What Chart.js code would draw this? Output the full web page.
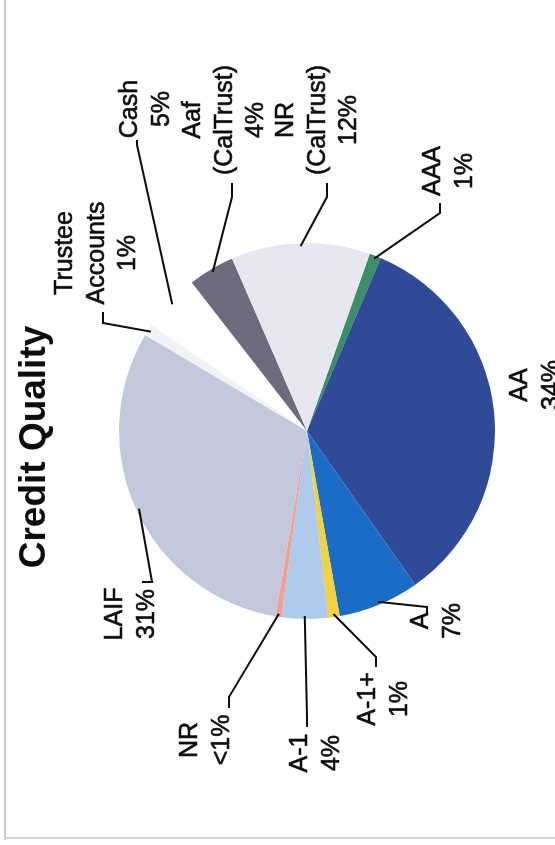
<!DOCTYPE html>
<html>
<head>
<meta charset="utf-8">
<title>Credit Quality</title>
<script src="https://cdn.jsdelivr.net/npm/chart.js@4.4.0/dist/chart.umd.min.js"></script>
<style>
  html, body { margin: 0; padding: 0; background: #fff; overflow: hidden; }
  #page { position: absolute; left: 0; top: 0; width: 555px; height: 845px; }
  #edgeLeft { position: absolute; left: 4px; top: 0; width: 2px; height: 840px; background: #cacad0; }
  #edgeBottom { position: absolute; left: 4px; top: 837px; width: 551px; height: 2px; background: #d2d2d6; }
  /* chart is laid out landscape, then turned to read bottom-to-top */
  #turn { position: absolute; left: 0; top: 0; width: 845px; height: 555px;
          transform-origin: 0 0; transform: translateY(845px) rotate(-90deg); }
</style>
</head>
<body>
<div id="page">
  <div id="turn"><canvas id="pie" width="845" height="555"></canvas></div>
  <div id="edgeLeft"></div>
  <div id="edgeBottom"></div>
</div>
<script>
// data, clockwise from AAA
const categories = [['AAA'], ['AA'], ['A'], ['A-1+'], ['A-1'], ['NR'], ['LAIF'],
  ['Trustee', 'Accounts'], ['Cash'], ['Aaf', '(CalTrust)'], ['NR', '(CalTrust)']];
const shares = [1, 34, 7, 1, 4, 0.5, 31, 1, 5, 4, 12];
const shareLabels = ['1%', '34%', '7%', '1%', '4%', '<1%', '31%', '1%', '5%', '4%', '12%'];

const sliceColors = ['#3a8e68', '#2f4a96', '#1b6cc6', '#f3d23c', '#aecbee', '#f2a08f',
  '#c4c8dd', '#f1f1f6', '#ffffff', '#6f6a7d', '#e6e7ef'];

// where each label sits (landscape coords) and its leader tick
const labelSpots = [
  { x: 674, y: 440, tick: [[642, 440], [632, 440]] },
  { x: 460, y: 527, tick: null },
  { x: 224, y: 428, tick: [[230, 427], [238, 427]] },
  { x: 146, y: 375, tick: [[178, 376], [188, 376]] },
  { x: 92, y: 307, tick: [[118, 307], [128, 307]] },
  { x: 105, y: 197, tick: [[137, 229], [148, 229]] },
  { x: 231, y: 122, tick: [[263, 142], [263, 152]] },
  { x: 592, y: 72, tick: [[533, 103], [522, 103]] },
  { x: 736, y: 137, tick: [[705, 137], [700, 137]] },
  { x: 725, y: 200, tick: [[662, 232], [648, 232]] },
  { x: 725, y: 293, tick: [[662, 327], [648, 327]] }
];
const lineGap = 31.5;

const sliceLabels = {
  id: 'sliceLabels',
  afterDatasetsDraw(chart) {
    const ctx = chart.ctx;
    const arcs = chart.getDatasetMeta(0).data;
    ctx.save();
    ctx.fillStyle = '#0d0d0d';
    ctx.strokeStyle = '#0d0d0d';
    ctx.textAlign = 'center';
    ctx.textBaseline = 'alphabetic';
    ctx.font = '25px "Liberation Sans", Arial, sans-serif';

    arcs.forEach((arc, i) => {
      const spot = labelSpots[i];
      const lines = categories[i].concat(shareLabels[i]);
      ctx.lineWidth = 0.6; // scanned type looks a little heavier
      lines.forEach((t, k) => {
        ctx.fillText(t, spot.x, spot.y + k * lineGap);
        ctx.strokeText(t, spot.x, spot.y + k * lineGap);
      });

      if (!spot.tick) return;
      const p = arc.getProps(['x', 'y', 'startAngle', 'endAngle', 'outerRadius'], true);
      const mid = (p.startAngle + p.endAngle) / 2;
      const ex = p.x + Math.cos(mid) * (p.outerRadius - 3);
      const ey = p.y + Math.sin(mid) * (p.outerRadius - 3);
      ctx.lineWidth = 2;
      ctx.beginPath();
      ctx.moveTo(spot.tick[0][0], spot.tick[0][1]);
      ctx.lineTo(spot.tick[1][0], spot.tick[1][1]);
      ctx.lineTo(ex, ey);
      ctx.stroke();
    });

    ctx.font = 'bold 37px "Liberation Sans", Arial, sans-serif';
    ctx.fillText('Credit Quality', 398, 45);
    ctx.restore();
  }
};

new Chart(document.getElementById('pie'), {
  type: 'pie',
  data: {
    labels: categories.map(c => c.join(' ')),
    datasets: [{
      data: shares,
      backgroundColor: sliceColors,
      borderWidth: 0
    }]
  },
  options: {
    responsive: false,
    animation: false,
    rotation: 109.5,
    radius: 188,
    layout: { padding: { left: 226, right: 243, top: 119, bottom: 60 } },
    plugins: {
      legend: { display: false },
      tooltip: { enabled: false },
      title: { display: false }
    }
  },
  plugins: [sliceLabels]
});
</script>
</body>
</html>
